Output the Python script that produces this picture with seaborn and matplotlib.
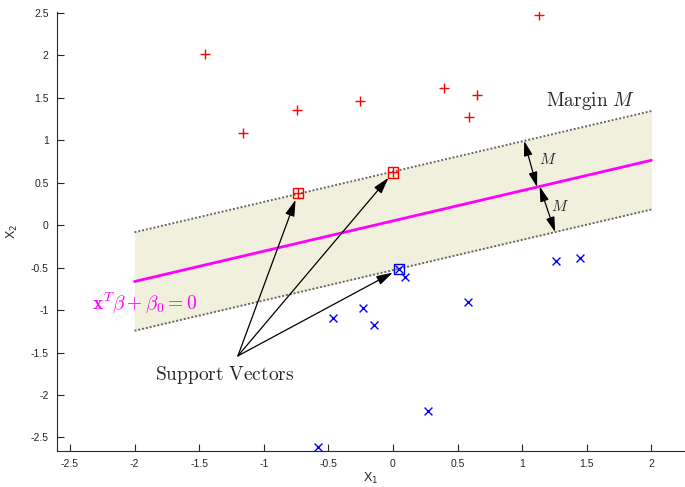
import numpy as np
import pandas as pd
import matplotlib
matplotlib.use("Agg")
import matplotlib.pyplot as plt
import seaborn as sns
from matplotlib.ticker import FormatStrFormatter

# Class +1 observations (red crosses)
pos_x1 = [-1.455, -1.16, -0.743, -0.255, 0.395, 0.65, 0.59, 1.13, -0.735, 0.0]
pos_x2 = [2.01, 1.08, 1.35, 1.46, 1.61, 1.53, 1.27, 2.48, 0.376, 0.62]
# Class -1 observations (blue x marks)
neg_x1 = [-0.464, -0.23, -0.147, 0.093, 0.046, 0.58, 1.26, 1.45, 0.27, -0.58]
neg_x2 = [-1.09, -0.98, -1.18, -0.61, -0.52, -0.91, -0.42, -0.39, -2.19, -2.61]
# Which points are support vectors
pos_sv = [8, 9]
neg_sv = [4]

# Separating hyperplane x2 = slope * x1 + intercept, margin half-width (vertical)
slope = 0.357
intercept = 0.05
half_gap = 0.58
x_span = [-2.0, 2.0]

sns.set_style("white")
plt.rcParams["axes.unicode_minus"] = False
plt.rcParams["mathtext.fontset"] = "cm"
plt.rcParams["font.family"] = ["Liberation Sans", "DejaVu Sans"]

fig = plt.figure(figsize=(6.85, 4.87), dpi=100)
ax = fig.add_axes([57 / 685, 36 / 487, 628 / 685, 439 / 487])

# Margin band and boundaries
xs = np.array(x_span)
mid = slope * xs + intercept
ax.fill_between(xs, mid - half_gap, mid + half_gap, color="#f1f0dc", lw=0, zorder=0)
for off in (half_gap, -half_gap):
    ax.plot(xs, mid + off, color="#666666", lw=1.4, ls=(0, (1, 1)), zorder=1)
ax.plot(xs, mid, color="#ff00ff", lw=2, zorder=2)

pos = pd.DataFrame({"x1": pos_x1, "x2": pos_x2})
neg = pd.DataFrame({"x1": neg_x1, "x2": neg_x2})

sns.scatterplot(data=pos, x="x1", y="x2", marker="+", color="red", s=42,
                linewidth=1, ax=ax, zorder=3)
sns.scatterplot(data=neg, x="x1", y="x2", marker="x", color="blue", s=32,
                linewidth=1, ax=ax, zorder=3)
sns.scatterplot(data=pos.iloc[pos_sv], x="x1", y="x2", marker="s", s=55,
                facecolor="none", edgecolor="red", linewidth=1, ax=ax, zorder=4)
sns.scatterplot(data=neg.iloc[neg_sv], x="x1", y="x2", marker="s", s=55,
                facecolor="none", edgecolor="blue", linewidth=1, ax=ax, zorder=4)

head = "-|>,head_length=0.9,head_width=0.26"
both = "<|-|>,head_length=0.9,head_width=0.26"

# Support-vector annotation
sv_pts = [(pos_x1[i], pos_x2[i]) for i in pos_sv] + [(neg_x1[i], neg_x2[i]) for i in neg_sv]
tail = (-1.2, -1.54)
for p in sv_pts:
    ax.annotate("", xy=p, xytext=tail,
                arrowprops=dict(arrowstyle=head, color="k", lw=0.9,
                                mutation_scale=11, shrinkA=0, shrinkB=5))
ax.text(-1.30, -1.76, r"$\mathrm{Support\ Vectors}$", fontsize=14,
        ha="center", va="center")

# Margin width arrows
line = lambda x: slope * x + intercept
xc = 1.115
ax.annotate("", xy=(xc - 0.1, line(xc - 0.1) + half_gap), xytext=(xc, line(xc)),
            arrowprops=dict(arrowstyle=both, color="k", lw=0.9,
                            mutation_scale=10, shrinkA=0, shrinkB=0))
ax.annotate("", xy=(xc + 0.14, line(xc + 0.14) - half_gap), xytext=(xc + 0.02, line(xc + 0.02)),
            arrowprops=dict(arrowstyle=both, color="k", lw=0.9,
                            mutation_scale=10, shrinkA=0, shrinkB=0))
ax.text(1.20, 0.77, r"$M$", fontsize=11, ha="center", va="center")
ax.text(1.29, 0.22, r"$M$", fontsize=11, ha="center", va="center")
ax.text(1.53, 1.46, r"$\mathrm{Margin}\ M$", fontsize=14, ha="center", va="center")

ax.text(-1.92, -0.91, r"$\mathbf{x}^T\beta+\beta_0=0$", fontsize=14,
        color="#ff00ff", ha="center", va="center")

ax.set_xlim(-2.60, 2.26)
ax.set_ylim(-2.66, 2.51)
ax.set_xticks(np.arange(-2.5, 2.01, 0.5))
ax.set_yticks(np.arange(-2.5, 2.51, 0.5))
ax.xaxis.set_major_formatter(FormatStrFormatter("%g"))
ax.yaxis.set_major_formatter(FormatStrFormatter("%g"))
ax.tick_params(direction="in", length=5, width=0.8, colors="#262626",
               labelsize=7.5, bottom=True, left=True, pad=6)
for side in ("top", "right"):
    ax.spines[side].set_visible(False)
for side in ("left", "bottom"):
    ax.spines[side].set_color("#262626")
    ax.spines[side].set_linewidth(0.8)

xl = ax.set_xlabel(r"X$_\mathsf{1}$", fontsize=9, color="#262626", labelpad=1)
yl = ax.set_ylabel(r"X$_\mathsf{2}$", fontsize=9, color="#262626", labelpad=8)
for t in (xl, yl):
    t.set_math_fontfamily("dejavusans")

fig.savefig("out.png", dpi=100)
